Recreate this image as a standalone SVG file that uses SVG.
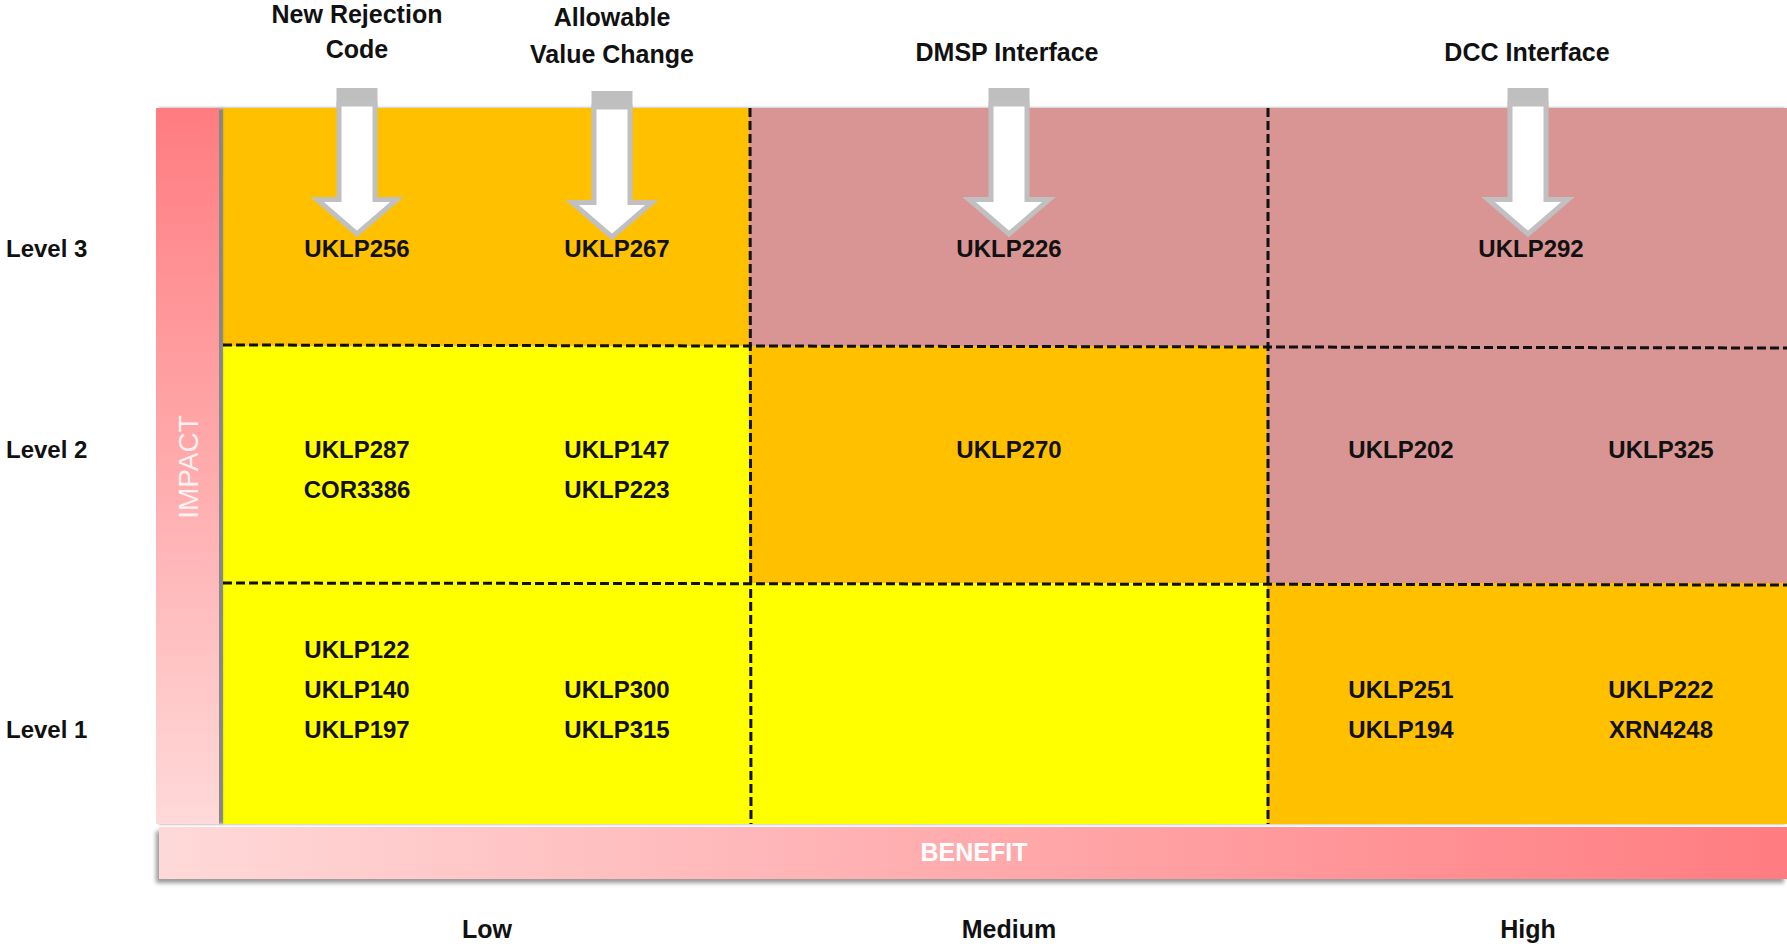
<svg xmlns="http://www.w3.org/2000/svg" width="1787" height="952" viewBox="0 0 1787 952">
<defs>
<linearGradient id="gImpact" x1="0" y1="0" x2="0" y2="1">
<stop offset="0" stop-color="#FF7C80"/>
<stop offset="1" stop-color="#FFD9D9"/>
</linearGradient>
<linearGradient id="gBenefit" x1="0" y1="0" x2="1" y2="0">
<stop offset="0" stop-color="#FFD9D9"/>
<stop offset="1" stop-color="#FF7C80"/>
</linearGradient>
<filter id="shR" x="-20%" y="-5%" width="140%" height="110%">
<feDropShadow dx="3" dy="0" stdDeviation="1.5" flood-color="#000" flood-opacity="0.45"/>
</filter>
<filter id="shB" x="-5%" y="-30%" width="110%" height="160%">
<feDropShadow dx="-3" dy="4" stdDeviation="2" flood-color="#000" flood-opacity="0.4"/>
</filter>
<filter id="shL" x="-5%" y="-5%" width="110%" height="110%">
<feDropShadow dx="-2" dy="0" stdDeviation="1.5" flood-color="#000" flood-opacity="0.4"/>
</filter>
<g id="arrow">
<rect x="-20.5" y="0" width="41" height="20" fill="#BFBFBF"/>
<path d="M-18,16 L18,16 L18,111.5 L40,111.5 L0,146 L-40,111.5 L-18,111.5 Z" fill="#FFFFFF" stroke="#C0C0C0" stroke-width="5" stroke-linejoin="miter"/>
</g>
</defs>
<style>
text{font-family:"Liberation Sans",Arial,sans-serif;font-weight:bold;fill:#111;}
.cell{font-size:24px;text-anchor:middle;}
.lvl{font-size:24px;}
.hdr{font-size:25px;text-anchor:middle;}
.axis{font-size:25px;text-anchor:middle;}
.div{stroke:#111;stroke-width:3;stroke-dasharray:9,4;fill:none;}
</style>
<rect width="1787" height="952" fill="#FFFFFF"/>

<g id="grid" filter="url(#shL)">
<rect x="223" y="108" width="526" height="238" fill="#FFC000"/>
<rect x="749" y="108" width="1038" height="238" fill="#D99594"/>
<rect x="223" y="346" width="526" height="237" fill="#FFFF00"/>
<rect x="749" y="346" width="518" height="237" fill="#FFC000"/>
<rect x="1267" y="346" width="520" height="237" fill="#D99594"/>
<rect x="223" y="583" width="526" height="241" fill="#FFFF00"/>
<rect x="749" y="583" width="518" height="241" fill="#FFFF00"/>
<rect x="1267" y="583" width="520" height="241" fill="#FFC000"/>
</g>

<g id="dividers">
<line class="div" x1="223" y1="345" x2="1787" y2="348"/>
<line class="div" x1="223" y1="583" x2="1787" y2="585"/>
<line class="div" x1="750" y1="108" x2="751" y2="824"/>
<line class="div" x1="1268" y1="108" x2="1268" y2="824"/>
</g>

<g id="impact-axis">
<rect x="156" y="108" width="63" height="716" fill="url(#gImpact)" filter="url(#shR)"/>
<text transform="translate(198,467) rotate(-90)" style="font-size:28px;font-weight:normal;fill:#FFFFFF;fill-opacity:0.85;text-anchor:middle">IMPACT</text>
</g>

<g id="benefit-axis">
<rect x="159" y="827" width="1628" height="52" fill="url(#gBenefit)" filter="url(#shB)"/>
<text x="974" y="861" style="font-size:25px;fill:#FFFFFF;text-anchor:middle">BENEFIT</text>
</g>

<g id="level-labels">
<text class="lvl" x="6" y="257">Level 3</text>
<text class="lvl" x="6" y="458">Level 2</text>
<text class="lvl" x="6" y="738">Level 1</text>
</g>

<g id="benefit-labels">
<text class="axis" x="487" y="938">Low</text>
<text class="axis" x="1009" y="938">Medium</text>
<text class="axis" x="1528" y="938">High</text>
</g>

<g id="headers">
<text class="hdr" x="357" y="23">New Rejection</text>
<text class="hdr" x="357" y="58">Code</text>
<text class="hdr" x="612" y="26">Allowable</text>
<text class="hdr" x="612" y="63">Value Change</text>
<text class="hdr" x="1007" y="61">DMSP Interface</text>
<text class="hdr" x="1527" y="61">DCC Interface</text>
</g>

<g id="arrows">
<use href="#arrow" x="357" y="88"/>
<use href="#arrow" x="612" y="91"/>
<use href="#arrow" x="1009" y="88"/>
<use href="#arrow" x="1528" y="88"/>
</g>

<g id="level3-cells">
<text class="cell" x="357" y="257">UKLP256</text>
<text class="cell" x="617" y="257">UKLP267</text>
<text class="cell" x="1009" y="257">UKLP226</text>
<text class="cell" x="1531" y="257">UKLP292</text>
</g>

<g id="level2-cells">
<text class="cell" x="357" y="458">UKLP287</text>
<text class="cell" x="357" y="498">COR3386</text>
<text class="cell" x="617" y="458">UKLP147</text>
<text class="cell" x="617" y="498">UKLP223</text>
<text class="cell" x="1009" y="458">UKLP270</text>
<text class="cell" x="1401" y="458">UKLP202</text>
<text class="cell" x="1661" y="458">UKLP325</text>
</g>

<g id="level1-cells">
<text class="cell" x="357" y="658">UKLP122</text>
<text class="cell" x="357" y="698">UKLP140</text>
<text class="cell" x="357" y="738">UKLP197</text>
<text class="cell" x="617" y="698">UKLP300</text>
<text class="cell" x="617" y="738">UKLP315</text>
<text class="cell" x="1401" y="698">UKLP251</text>
<text class="cell" x="1401" y="738">UKLP194</text>
<text class="cell" x="1661" y="698">UKLP222</text>
<text class="cell" x="1661" y="738">XRN4248</text>
</g>
</svg>
